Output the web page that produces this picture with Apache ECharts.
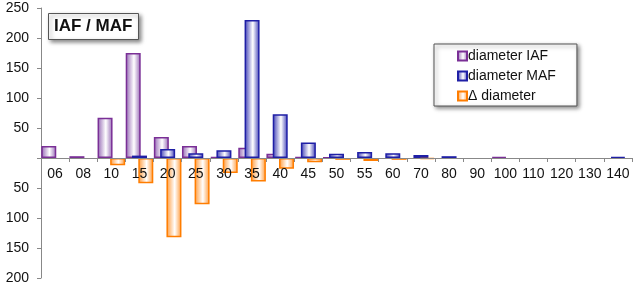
<!DOCTYPE html>
<html>
<head>
<meta charset="utf-8">
<script src="https://cdn.jsdelivr.net/npm/echarts@6/dist/echarts.min.js"></script>
<style>html,body{margin:0;padding:0;background:#fff}#c{width:638px;height:287px}</style>
</head>
<body>
<div id="c"></div>
<script>
const categories = ['06','08','10','15','20','25','30','35','40','45','50','55','60','70','80','90','100','110','120','130','140'];
const iafValues   = [20, 3, 67, 175, 35, 20, 2, 17, 7, 2, 1, 0, 0, 0, 0, 0, 2, 0, 0, 0, 0];
const mafValues   = [0, 0, 0, 4, 15, 8, 13, 230, 73, 26, 7, 10, 8, 5, 3, 0, 0, 0, 0, 0, 2];
const deltaValues = [0, 0, -12, -42, -132, -77, -25, -39, -18, -7, -3, -5, -3, -2, 0, 0, 0, 0, 0, 0, 0];
const seriesNames = ['diameter IAF', 'diameter MAF', '\u0394 diameter'];
const yTicks = { min: -200, max: 250, step: 50 };

function grad(edge) {
  return new echarts.graphic.LinearGradient(0, 0, 1, 0, [
    { offset: 0, color: edge },
    { offset: 0.55, color: '#ffffff' },
    { offset: 1, color: edge }
  ]);
}
const styles = [
  { fill: '#9366b3', border: '#7a2f96' },
  { fill: '#3c3cb4', border: '#1f1fa6' },
  { fill: '#ff9a3a', border: '#ff7d00' }
];
const data = [iafValues, mafValues, deltaValues];

const gridTop = 8, gridBottom = 9, H = 287;
const plotH = H - gridTop - gridBottom;
const zeroOffset = -plotH * (0 - yTicks.min) / (yTicks.max - yTicks.min);

const chart = echarts.init(document.getElementById('c'), null, { renderer: 'canvas' });
chart.setOption({
  animation: false,
  textStyle: { fontFamily: 'Liberation Sans, Arial, sans-serif' },
  grid: { left: 41, right: 6, top: gridTop, bottom: gridBottom, containLabel: false, outerBoundsMode: 'none' },
  title: {
    text: 'IAF / MAF',
    left: 48, top: 13,
    padding: [5, 6, 5, 6],
    backgroundColor: '#fff',
    borderColor: '#555', borderWidth: 1,
    shadowBlur: 4, shadowOffsetX: 2, shadowOffsetY: 2, shadowColor: 'rgba(0,0,0,0.45)',
    textStyle: { fontSize: 17, fontWeight: 'bold', color: '#111', fontFamily: 'Liberation Sans, Arial, sans-serif' }
  },
  legend: {
    orient: 'vertical',
    left: 434, top: 44,
    padding: [5, 21, 3, 23],
    itemGap: 6,
    itemWidth: 9, itemHeight: 9,
    icon: 'rect',
    backgroundColor: '#fff',
    borderColor: '#555', borderWidth: 1,
    shadowBlur: 4, shadowOffsetX: 2, shadowOffsetY: 2, shadowColor: 'rgba(0,0,0,0.45)',
    textStyle: { fontSize: 14, color: '#111', padding: [0, 0, 0, -4] },
    data: seriesNames
  },
  xAxis: {
    type: 'category',
    data: categories,
    position: 'bottom',
    offset: zeroOffset,
    z: 10,
    axisLine: { onZero: false, lineStyle: { color: '#888' } },
    axisTick: { show: true, length: 4, lineStyle: { color: '#888' } },
    axisLabel: { fontSize: 14, color: '#111', margin: 9, interval: 0, hideOverlap: false },
    splitLine: { show: false }
  },
  yAxis: {
    type: 'value',
    min: yTicks.min, max: yTicks.max, interval: yTicks.step,
    axisLine: { show: true, lineStyle: { color: '#888' } },
    axisTick: { show: true, length: 4, lineStyle: { color: '#888' } },
    axisLabel: { fontSize: 14, color: '#111', margin: 12, formatter: v => v === 0 ? '' : String(Math.abs(v)) },
    splitLine: { show: false }
  },
  series: data.map((vals, i) => ({
    name: seriesNames[i],
    type: 'bar',
    data: vals.map(v => v === 0 ? null : v),
    barWidth: 15,
    barGap: '-58%',
    itemStyle: { color: grad(styles[i].fill), borderColor: styles[i].border, borderWidth: 1.5 }
  }))
});
</script>
</body>
</html>
